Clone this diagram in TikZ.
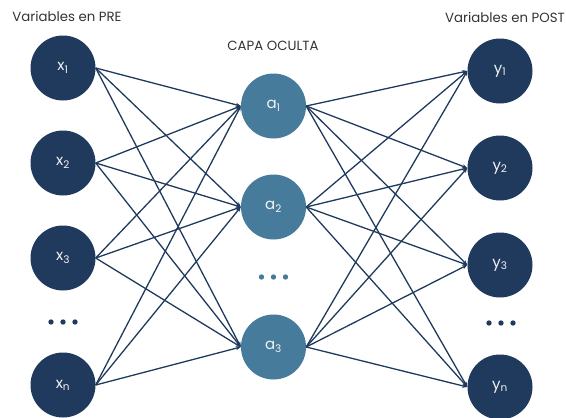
\documentclass[tikz,border=0pt]{standalone}
\usepackage{fontspec}
\setmainfont{Poppins}
\usetikzlibrary{arrows.meta}
\definecolor{navy}{HTML}{1F3A5C}
\definecolor{steel}{HTML}{467B9C}
\definecolor{labelgray}{HTML}{333333}
\begin{document}
\begin{tikzpicture}[x=1pt, y=-1pt,
        inputnode/.style={circle, fill=navy, minimum size=65pt, inner sep=0pt, text=white!90!gray, font=\fontsize{15}{15}\selectfont},
        hiddennode/.style={circle, fill=steel, minimum size=65pt, inner sep=0pt, text=white!90!gray, font=\fontsize{15}{15}\selectfont},
        outputnode/.style={circle, fill=navy, minimum size=65pt, inner sep=0pt, text=white!90!gray, font=\fontsize{15}{15}\selectfont},
        title/.style={text=labelgray, font=\fontsize{13.3}{15}\selectfont},
        arrow/.style={-{Stealth[length=5pt,width=4pt]}, draw=navy, line width=1.3pt}
    ]
        \useasboundingbox (0,0) rectangle (566,418);

        % Titles
        \node[title] (tpre) at (67,16) {Variables en PRE};
        \node[title] (thid) at (273,46) {CAPA OCULTA};
        \node[title] (tpost) at (505,17) {Variables en POST};

        % Input layer
        \node[inputnode] (x1) at (63,68) {x\textsubscript{1}};
        \node[inputnode] (x2) at (63,163) {x\textsubscript{2}};
        \node[inputnode] (x3) at (63,258) {x\textsubscript{3}};
        \node[inputnode] (xn) at (63,385) {x\textsubscript{n}};

        % Hidden layer
        \node[hiddennode] (a1) at (273.5,106) {a\textsubscript{1}};
        \node[hiddennode] (a2) at (273.5,207) {a\textsubscript{2}};
        \node[hiddennode] (a3) at (273.5,347) {a\textsubscript{3}};

        % Output layer
        \node[outputnode] (y1) at (500,71) {y\textsubscript{1}};
        \node[outputnode] (y2) at (500,168) {y\textsubscript{2}};
        \node[outputnode] (y3) at (500,265) {y\textsubscript{3}};
        \node[outputnode] (yn) at (500,387) {y\textsubscript{n}};

        % Dots
        \fill[navy] (51,322) circle (2.7pt) (63,322) circle (2.7pt) (75,322) circle (2.7pt);
        \fill[steel] (261.5,277) circle (2.7pt) (273.5,277) circle (2.7pt) (285.5,277) circle (2.7pt);
        \fill[navy] (489,323) circle (2.7pt) (501,323) circle (2.7pt) (513,323) circle (2.7pt);

        % Input -> hidden
        \draw[arrow] (x1.east) -- (a1.west);
        \draw[arrow] (x1.east) -- (a2.west);
        \draw[arrow] (x1.east) -- (a3.west);
        \draw[arrow] (x2.east) -- (a1.west);
        \draw[arrow] (x2.east) -- (a2.west);
        \draw[arrow] (x2.east) -- (a3.west);
        \draw[arrow] (x3.east) -- (a1.west);
        \draw[arrow] (x3.east) -- (a2.west);
        \draw[arrow] (x3.east) -- (a3.west);
        \draw[arrow] (xn.east) -- (a1.west);
        \draw[arrow] (xn.east) -- (a2.west);
        \draw[arrow] (xn.east) -- (a3.west);

        % Hidden -> output
        \draw[arrow] (a1.east) -- (y1.west);
        \draw[arrow] (a1.east) -- (y2.west);
        \draw[arrow] (a1.east) -- (y3.west);
        \draw[arrow] (a1.east) -- (yn.west);
        \draw[arrow] (a2.east) -- (y1.west);
        \draw[arrow] (a2.east) -- (y2.west);
        \draw[arrow] (a2.east) -- (y3.west);
        \draw[arrow] (a2.east) -- (yn.west);
        \draw[arrow] (a3.east) -- (y1.west);
        \draw[arrow] (a3.east) -- (y2.west);
        \draw[arrow] (a3.east) -- (y3.west);
        \draw[arrow] (a3.east) -- (yn.west);
    \end{tikzpicture}
\end{document}
